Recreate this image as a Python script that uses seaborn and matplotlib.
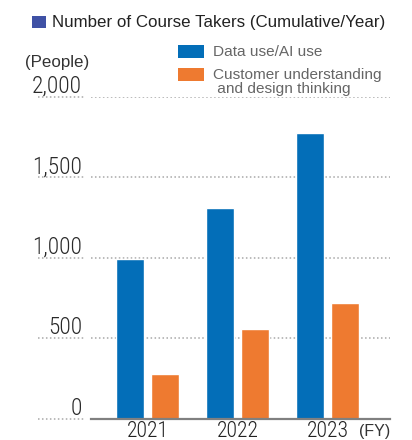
import matplotlib
matplotlib.use("Agg")
import matplotlib.pyplot as plt
import matplotlib.transforms as mtransforms
from matplotlib import font_manager
from matplotlib.lines import Line2D
from matplotlib.patches import Rectangle
import seaborn as sns
import pandas as pd

# ---- data ----
years = ["2021", "2022", "2023"]
data_ai = [990, 1310, 1775]
customer_design = [280, 560, 720]
series_names = ["Data use/AI use", "Customer understanding and design thinking"]
legend_lines = [["Data use/AI use"], ["Customer understanding", " and design thinking"]]
y_ticks = [0, 500, 1000, 1500, 2000]
y_tick_labels = ["0", "500", "1,000", "1,500", "2,000"]
title = "Number of Course Takers (Cumulative/Year)"
y_unit = "(People)"
x_unit = "(FY)"

colors = ["#036EB8", "#EE7A30"]

df = pd.DataFrame({
    "year": years * 2,
    "value": data_ai + customer_design,
    "series": [series_names[0]] * 3 + [series_names[1]] * 3,
})

sns.set_theme(style="white")
installed = {f.name for f in font_manager.fontManager.ttflist}
narrow = "Liberation Sans"
for cand in ["Roboto Condensed", "Liberation Sans Narrow", "Archivo Narrow"]:
    if cand in installed:
        narrow = cand
        break
plt.rcParams["font.family"] = ["Liberation Sans", "DejaVu Sans"]

W, H = 412, 440
fig = plt.figure(figsize=(W / 100, H / 100), dpi=100)
ax = fig.add_axes([91 / W, (H - 418.7) / H, (390 - 91) / W, (418.7 - 97) / H])

sns.barplot(data=df, x="year", y="value", hue="series", palette=colors,
            width=0.778, gap=0.2, ax=ax, saturation=1, legend=False)

ax.set_xlim(-0.633, 2.689)
ax.set_ylim(0, 2000)
ax.set_xlabel("")
ax.set_ylabel("")
for s in ["top", "right", "left"]:
    ax.spines[s].set_visible(False)
ax.spines["bottom"].set_color("#808080")
ax.spines["bottom"].set_linewidth(1.6)
ax.spines["bottom"].set_zorder(5)

# gridlines (dotted)
ax.set_yticks(y_ticks)
ax.set_yticklabels(y_tick_labels)
for v in y_ticks[1:]:
    ax.axhline(v, color="#a8a8a8", lw=1.1, ls=(0, (1, 1.6)), zorder=0)
blend = mtransforms.blended_transform_factory(fig.transFigure, ax.transData)
for v in y_ticks:
    fig.add_artist(Line2D([38 / W, 84 / W], [v, v], transform=blend,
                          color="#a8a8a8", lw=1.1, ls=(0, (1, 1.6))))

ax.tick_params(axis="y", length=0, pad=6.5, labelsize=16.8, labelcolor="#2a2a2a")
up = mtransforms.ScaledTranslation(0, 4 / 100, fig.dpi_scale_trans)
for lab in ax.get_yticklabels():
    lab.set_fontfamily(narrow)
    lab.set_fontweight("light")
    lab.set_verticalalignment("baseline")
    lab.set_transform(lab.get_transform() + up)

ax.tick_params(axis="x", length=0, pad=1.5, labelsize=15.6, labelcolor="#222222")
for lab in ax.get_xticklabels():
    lab.set_fontfamily(narrow)
    lab.set_fontweight("light")

ax.annotate(x_unit, xy=(1.0, 0), xycoords="axes fraction", xytext=(0, -3.5),
            textcoords="offset points", ha="right", va="top",
            fontsize=11.5, color="#333333")

# title with square marker
fig.add_artist(Rectangle((32 / W, (H - 28) / H), 14 / W, 12 / H,
                         transform=fig.transFigure, color="#3F51A5", lw=0))
fig.text(52 / W, (H - 22) / H, title, fontsize=12.2, color="#222222",
         ha="left", va="center")

fig.text(25 / W, (H - 63) / H, y_unit, fontsize=12.2, color="#333333",
         ha="left", va="center")

# legend
handle_tops = [45, 68]
for i, (c, lines) in enumerate(zip(colors, legend_lines)):
    top = handle_tops[i]
    fig.add_artist(Rectangle((178 / W, (H - top - 13) / H), 26 / W, 13 / H,
                             transform=fig.transFigure, color=c, lw=0))
    for j, line in enumerate(lines):
        fig.text(213 / W, (H - (top + 6.5 + j * 15)) / H, line, fontsize=11.1,
                 color="#666666", ha="left", va="center")

fig.savefig("out.png", dpi=100)
